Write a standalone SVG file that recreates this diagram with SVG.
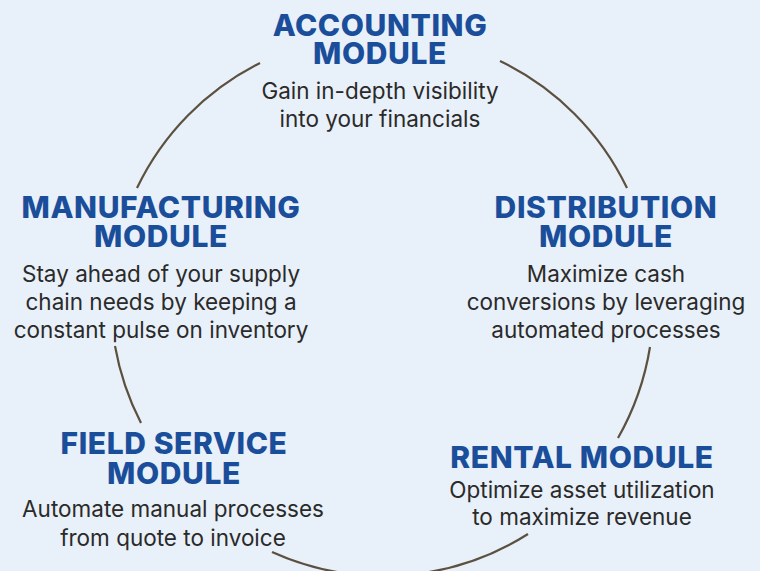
<svg xmlns="http://www.w3.org/2000/svg" width="760" height="571" viewBox="0 0 760 571">
<style>
.t{font-family:Inter,"Liberation Sans",sans-serif;font-weight:800;font-size:30px;letter-spacing:0.6px;fill:#1a4e9a;text-anchor:middle}
.d{font-family:Inter,"Liberation Sans",sans-serif;font-weight:400;font-size:22.5px;fill:#2b2a2a;text-anchor:middle}
.arc{fill:none;stroke:#5c5140;stroke-width:2.2;stroke-linecap:butt}
</style>
<rect width="760" height="571" fill="#e8f0f9"/>
<g id="connectors">
<path class="arc" d="M137,188 A271,271 0 0 1 260,63"/>
<path class="arc" d="M500,61 A271,271 0 0 1 627,188"/>
<path class="arc" d="M650,347 A271,271 0 0 1 618,438"/>
<path class="arc" d="M528,534 A271,271 0 0 1 272,552"/>
<path class="arc" d="M141,423 A271,271 0 0 1 115,346"/>
</g>
<g id="accounting">
<text class="t" x="380" y="36">ACCOUNTING</text>
<text class="t" x="380" y="64">MODULE</text>
<text class="d" x="380" y="99">Gain in-depth visibility</text>
<text class="d" x="380" y="127">into your financials</text>
</g>
<g id="manufacturing">
<text class="t" x="161" y="218">MANUFACTURING</text>
<text class="t" x="161" y="247">MODULE</text>
<text class="d" x="161" y="282">Stay ahead of your supply</text>
<text class="d" x="161" y="310">chain needs by keeping a</text>
<text class="d" x="161" y="338">constant pulse on inventory</text>
</g>
<g id="distribution">
<text class="t" x="606" y="218">DISTRIBUTION</text>
<text class="t" x="606" y="247">MODULE</text>
<text class="d" x="606" y="282">Maximize cash</text>
<text class="d" x="606" y="310">conversions by leveraging</text>
<text class="d" x="606" y="338">automated processes</text>
</g>
<g id="fieldservice">
<text class="t" x="174" y="454">FIELD SERVICE</text>
<text class="t" x="174" y="484">MODULE</text>
<text class="d" x="173" y="517">Automate manual processes</text>
<text class="d" x="173" y="546">from quote to invoice</text>
</g>
<g id="rental">
<text class="t" x="582" y="468">RENTAL MODULE</text>
<text class="d" x="582" y="498">Optimize asset utilization</text>
<text class="d" x="582" y="525">to maximize revenue</text>
</g>
</svg>
